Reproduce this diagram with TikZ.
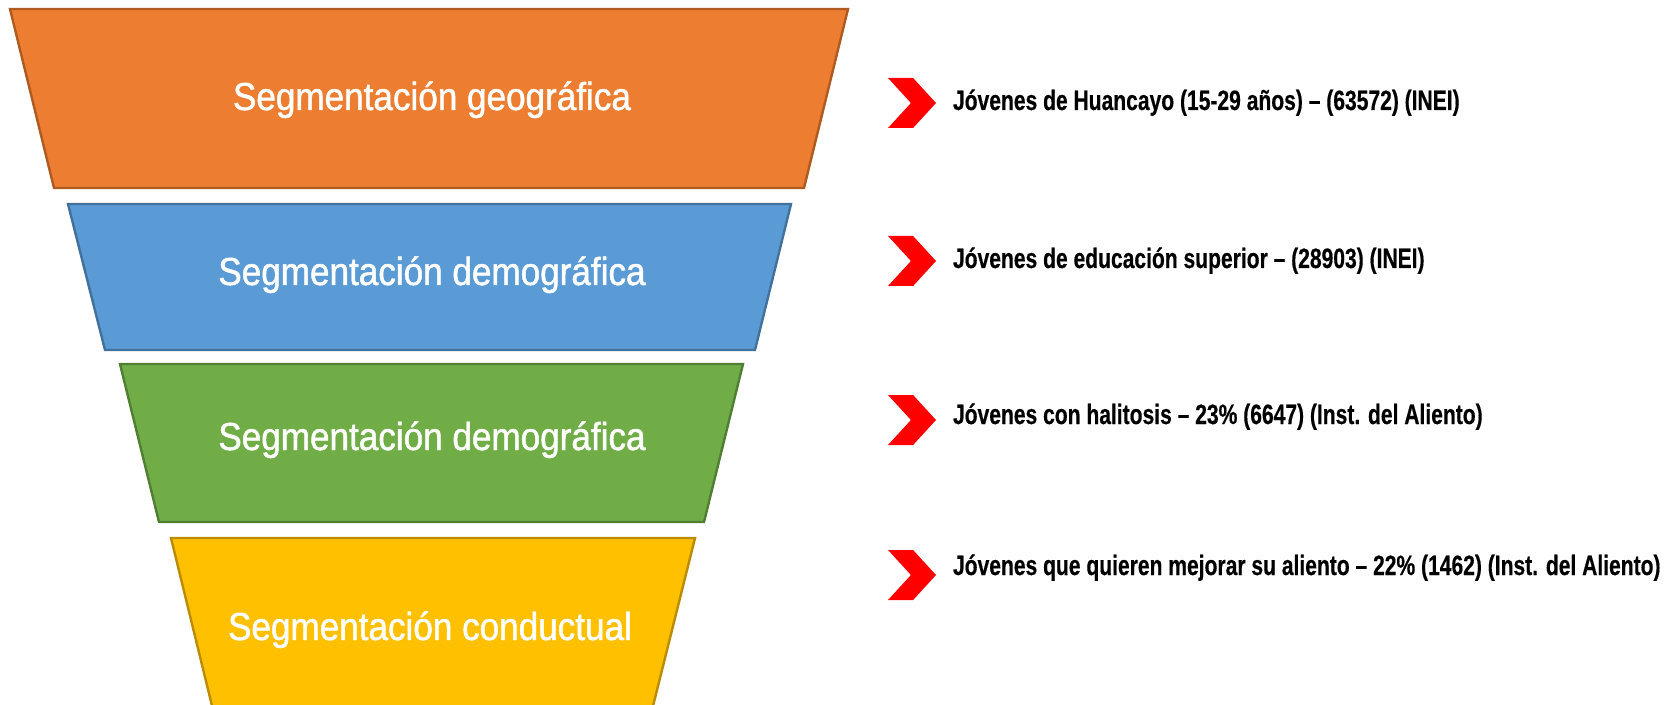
\documentclass[tikz,border=0pt]{standalone}
\usepackage{fontspec}
\setmainfont{Liberation Sans}
\newfontfamily\stagefont[FakeStretch=0.9, FakeBold=1.2]{Liberation Sans}
\newfontfamily\notefont[FakeStretch=0.752, FakeBold=0.4]{Liberation Sans}
\usetikzlibrary{shapes.symbols}
\definecolor{geofill}{HTML}{ED7D31}
\definecolor{geoline}{HTML}{AE5A21}
\definecolor{demofill}{HTML}{5B9BD5}
\definecolor{demoline}{HTML}{41719C}
\definecolor{psyfill}{HTML}{70AD47}
\definecolor{psyline}{HTML}{507E32}
\definecolor{condfill}{HTML}{FFC000}
\definecolor{condline}{HTML}{BC8C00}
\definecolor{markred}{HTML}{FF0000}
\tikzstyle{stage}=[line width=1.2pt, line join=miter]
\tikzstyle{stagelabel}=[text=white, anchor=base, inner sep=0, outer sep=0,
                        font=\stagefont\fontsize{19.5}{22}\selectfont]
\tikzstyle{marker}=[signal, signal to=east, signal from=west, signal pointer angle=95,
                    fill=markred, inner sep=0, outer sep=0,
                    minimum height=25pt, minimum width=24pt]
\tikzstyle{note}=[anchor=base west, inner sep=0, outer sep=0,
                  font=\notefont\bfseries\fontsize{14}{16}\selectfont]
\begin{document}
\begin{tikzpicture}[x=0.5pt, y=-0.5pt]
        \useasboundingbox (0,0) rectangle (1668,705);
        % Funnel
        \filldraw[stage, fill=geofill, draw=geoline]   (10,9) -- (848,9) -- (804,188) -- (54,188) -- cycle;
        \filldraw[stage, fill=demofill, draw=demoline] (68,204) -- (791,204) -- (755,350) -- (105,350) -- cycle;
        \filldraw[stage, fill=psyfill, draw=psyline]   (120,364) -- (743,364) -- (704,522) -- (159,522) -- cycle;
        \filldraw[stage, fill=condfill, draw=condline] (171,538) -- (695,538) -- (651,714) -- (214,714) -- cycle;
        \node[stagelabel] (geo)  at (432,110) {Segmentación geográfica};
        \node[stagelabel] (demo) at (432,285) {Segmentación demográfica};
        \node[stagelabel] (psy)  at (432,450) {Segmentación demográfica};
        \node[stagelabel] (cond) at (430,640) {Segmentación conductual};
        % Markers
        \node[marker] (mark1) at (912,103) {};
        \node[marker] (mark2) at (912,261) {};
        \node[marker] (mark3) at (912,420) {};
        \node[marker] (mark4) at (912,575) {};
        \node[note] (note1) at (953,110) {Jóvenes de Huancayo (15-29 años) – (63572) (INEI)};
        \node[note] (note2) at (953,268) {Jóvenes de educación superior – (28903) (INEI)};
        \node[note] (note3) at (953,424) {Jóvenes con halitosis – 23\% (6647) (Inst. del Aliento)};
        \node[note] (note4) at (953,575) {Jóvenes que quieren mejorar su aliento – 22\% (1462) (Inst. del Aliento)};
    \end{tikzpicture}
\end{document}
